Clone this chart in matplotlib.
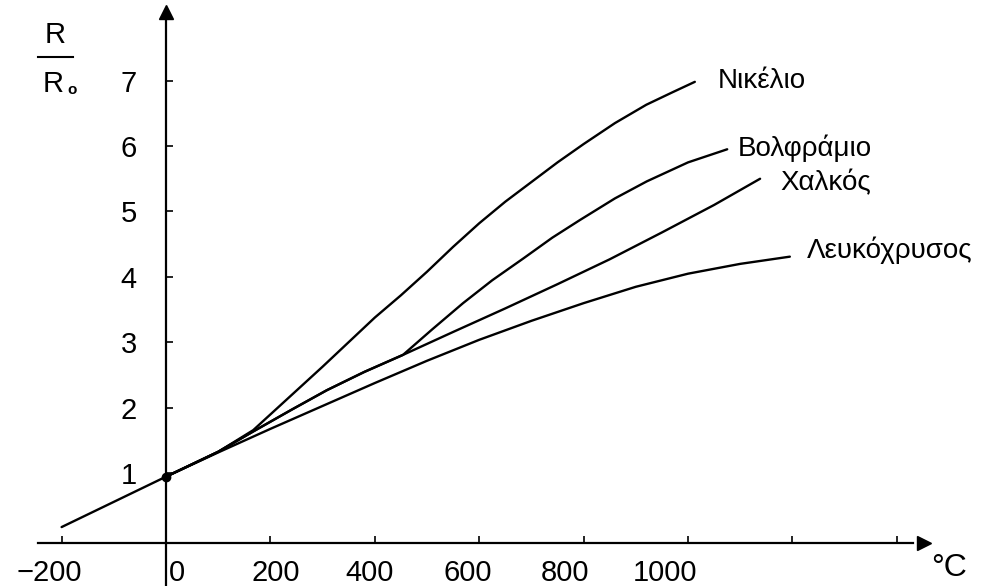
import numpy as np
import matplotlib
matplotlib.use('agg')
import matplotlib.pyplot as plt
from matplotlib.transforms import ScaledTranslation

plt.rcParams['font.family'] = ['Liberation Sans', 'DejaVu Sans']

# R/R0 against temperature
pt_t = [-200, 0, 100, 200, 300, 400, 500, 600, 700, 800, 900, 1000, 1100, 1195]
pt_r = [0.18, 0.95, 1.32, 1.68, 2.03, 2.38, 2.72, 3.04, 3.33, 3.60, 3.85, 4.05, 4.20, 4.31]

cu_t = [0, 100, 167, 240, 308, 380, 454, 550, 650, 750, 850, 950, 1050, 1138]
cu_r = [0.95, 1.33, 1.64, 1.97, 2.27, 2.55, 2.81, 3.16, 3.52, 3.89, 4.27, 4.68, 5.10, 5.50]

w_t = [0, 100, 167, 240, 308, 380, 454, 510, 569, 625, 684, 740, 793, 860, 921, 1000, 1075]
w_r = [0.95, 1.33, 1.64, 1.97, 2.27, 2.55, 2.81, 3.20, 3.60, 3.95, 4.28, 4.60, 4.87, 5.20, 5.46, 5.75, 5.95]

ni_t = [0, 100, 167, 300, 400, 450, 500, 550, 600, 650, 700, 750, 800, 860, 920, 970, 1013]
ni_r = [0.95, 1.33, 1.66, 2.63, 3.38, 3.72, 4.08, 4.46, 4.82, 5.15, 5.45, 5.75, 6.03, 6.35, 6.63, 6.82, 6.98]

names = ['Νικέλιο', 'Βολφράμιο', 'Χαλκός', 'Λευκόχρυσος']
label_pos = [(1057, 7.0), (1096, 5.97), (1176, 5.43), (1228, 4.41)]

x_ticks = [-200, 0, 200, 400, 600, 800, 1000, 1200, 1400]
x_labels = ['\u2212200', '0', '200', '400', '600', '800', '1000', '', '']
y_ticks = [1, 2, 3, 4, 5, 6, 7]

fig = plt.figure(figsize=(9.95, 5.86), dpi=100)
ax = fig.add_axes([0, 0, 1, 1])
ax.set_xlim(-318, 1588)
ax.set_ylim(-0.72, 8.23)

for t, r in [(ni_t, ni_r), (w_t, w_r), (cu_t, cu_r), (pt_t, pt_r)]:
    ax.plot(t, r, color='black', lw=1.7, solid_capstyle='round', solid_joinstyle='round')

ax.plot([0], [0.95], 'o', color='black', ms=6, zorder=5)

for name, (lx, ly) in zip(names, label_pos):
    ax.text(lx, ly, name, fontsize=20, ha='left', va='center')

# axes drawn as arrows through the origin
for side in ['top', 'right']:
    ax.spines[side].set_visible(False)
ax.spines['left'].set_position(('data', 0))
ax.spines['bottom'].set_position(('data', -0.06))
ax.spines['left'].set_bounds(-0.72, 7.95)
ax.spines['bottom'].set_bounds(-245, 1430)
ax.spines['left'].set_linewidth(1.6)
ax.spines['bottom'].set_linewidth(1.6)
ax.plot([1452], [-0.06], '>', color='black', ms=10, clip_on=False)
ax.plot([0], [8.05], '^', color='black', ms=10, clip_on=False)

ax.set_xticks(x_ticks, x_labels, fontsize=21)
ax.set_yticks(y_ticks, [str(v) for v in y_ticks], fontsize=21)
ax.tick_params(axis='x', direction='in', length=5, width=1.2, pad=12)
ax.tick_params(axis='y', direction='in', length=5, width=1.2, pad=21)

shifts = [-12, 11, 5, -5, -11, -19, -23, 0, 0]
for lab, dx in zip(ax.get_xticklabels(), shifts):
    lab.set_transform(lab.get_transform() + ScaledTranslation(dx / 100, 0, fig.dpi_scale_trans))

ax.text(1500, -0.44, '°C', fontsize=23, ha='center', va='center')

# R / R0 label
fig.text(55 / 995, 1 - 35 / 586, 'R', fontsize=21, ha='center', va='center')
fig.add_artist(plt.Line2D([38 / 995, 73 / 995], [1 - 57 / 586, 1 - 57 / 586], color='black', lw=1.5))
fig.text(53 / 995, 1 - 84 / 586, 'R', fontsize=21, ha='center', va='center')
fig.text(72 / 995, 1 - 90 / 586, 'o', fontsize=11, fontweight='bold', ha='center', va='center')

fig.savefig('out.png', dpi=100)
